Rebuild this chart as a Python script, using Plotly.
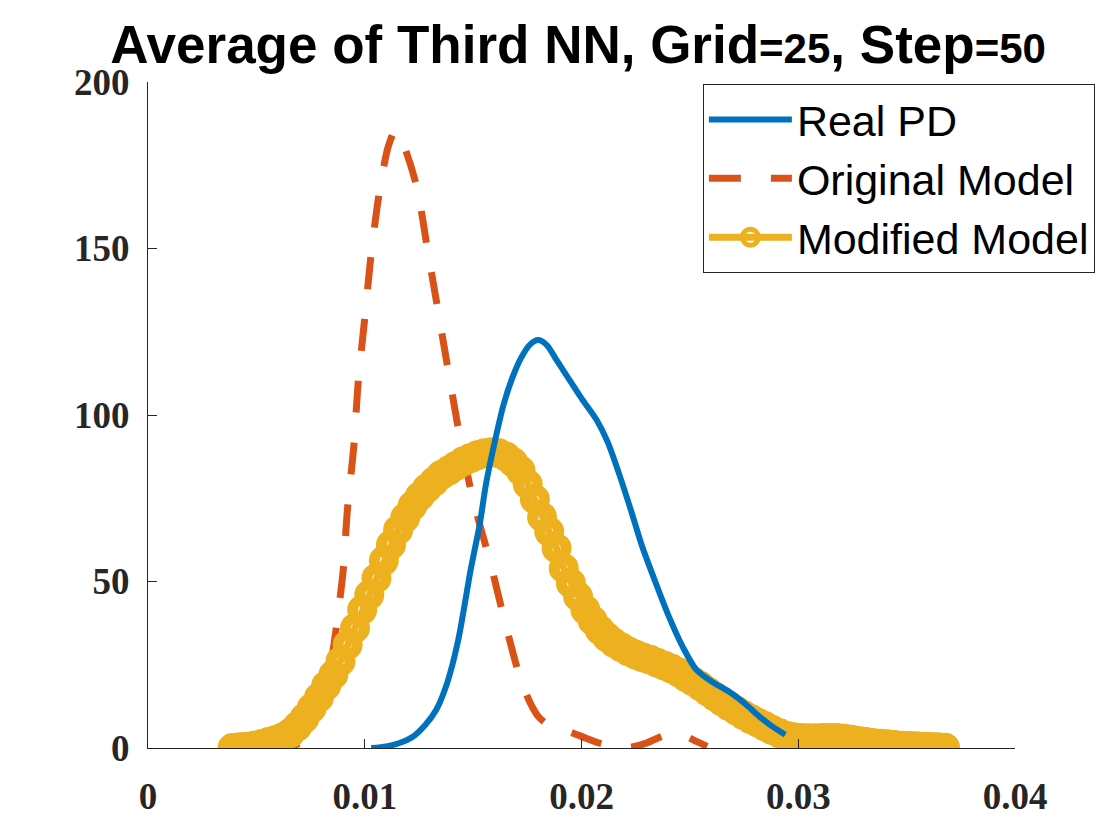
import plotly.graph_objects as go

# ---- data ----
real_x = [0.0103, 0.0110, 0.0116, 0.0122, 0.0128, 0.0133, 0.0138, 0.0143, 0.0149, 0.0153,
          0.0156, 0.0160, 0.0164, 0.0168, 0.0172, 0.0176, 0.0180, 0.0184, 0.0188, 0.0193,
          0.0200, 0.0207, 0.0212, 0.0217, 0.0223, 0.0228, 0.0234, 0.0240, 0.0247, 0.0253,
          0.0260, 0.0269, 0.0276, 0.0282, 0.0288, 0.0294, 0.0300, 0.0305]
real_y = [0, 0.5, 1.5, 3.3, 7, 11.5, 19.5, 32, 54, 67,
          79.5, 92, 103, 111, 117, 121, 122.5, 121, 117, 112,
          105, 98.5, 92, 83, 71, 60.5, 50, 40, 30, 23.5,
          20, 16.5, 13, 9.5, 6.5, 4, 2, 0.8]

orig_x = [0.0055, 0.0062, 0.0069, 0.0074, 0.0078, 0.0080, 0.0082, 0.0084, 0.0086, 0.0088,
          0.0090, 0.0092, 0.0095, 0.0097, 0.0100, 0.0103, 0.0107, 0.0111, 0.01143, 0.0118,
          0.0124, 0.0129, 0.0134, 0.0139, 0.0144, 0.0150, 0.0158, 0.0165, 0.0173, 0.0180,
          0.0186, 0.0192, 0.0200, 0.0208, 0.0215, 0.0222, 0.0230, 0.0237, 0.0242, 0.0248,
          0.0253, 0.0258]
orig_y = [0, 0.3, 1.2, 4.5, 10, 13, 18, 24, 32, 42,
          53, 71.5, 91, 110, 129, 148.6, 168, 181, 185.5, 181,
          168.5, 149.5, 130.6, 111.5, 93, 74.5, 55.5, 37, 18.5, 9.5,
          6.5, 5.4, 3.5, 1.5, 0.5, 0.2, 1.5, 3.5, 4.5, 3.5,
          2, 0.5]

mod_x = [0.00390, 0.00423, 0.00456, 0.00490, 0.00523, 0.00556, 0.00589, 0.00623, 0.00656, 0.00689,
         0.00722, 0.00755, 0.00789, 0.00822, 0.00855, 0.00888, 0.00921, 0.00955, 0.00988, 0.01021,
         0.01054, 0.01088, 0.01121, 0.01154, 0.01187, 0.01221, 0.01254, 0.01287, 0.01320, 0.01353,
         0.01387, 0.01420, 0.01453, 0.01486, 0.01519, 0.01553, 0.01586, 0.01619, 0.01652, 0.01685,
         0.01719, 0.01752, 0.01785, 0.01818, 0.01851, 0.01885, 0.01918, 0.01951, 0.01984, 0.02018,
         0.02051, 0.02084, 0.02117, 0.02150, 0.02184, 0.02217, 0.02250, 0.02283, 0.02316, 0.02349,
         0.02383, 0.02416, 0.02449, 0.02482, 0.02515, 0.02549, 0.02582, 0.02615, 0.02648, 0.02681,
         0.02715, 0.02748, 0.02781, 0.02814, 0.02847, 0.02880, 0.02914, 0.02947, 0.02980, 0.03013,
         0.03046, 0.03079, 0.03113, 0.03146, 0.03179, 0.03212, 0.03245, 0.03278, 0.03312, 0.03345,
         0.03378, 0.03411, 0.03444, 0.03477, 0.03511, 0.03544, 0.03577, 0.03610, 0.03643, 0.03677]
mod_y = [0, 0.2, 0.4, 0.7, 1.2, 1.8, 2.4, 3.2, 4.5, 6.5,
         9, 12, 15.2, 18.7, 22, 26, 31, 36, 41.5, 46,
         51, 56.3, 61, 65.5, 69.2, 72.8, 75.6, 78, 80, 82,
         83.3, 84.7, 86, 87, 87.9, 88.5, 88.8, 88.5, 87.5, 85.8,
         83.3, 79.2, 74.7, 69.4, 65, 60, 54, 49.5, 45.5, 41.5,
         38.3, 35.5, 33.3, 31.6, 30.2, 29, 28, 27.2, 26.5, 25.6,
         24.7, 23.8, 22.7, 21.3, 20, 18.6, 17, 15.5, 14, 12.6,
         11.2, 9.9, 8.7, 7.6, 6.5, 5.4, 4.4, 3.6, 3.2, 3.0,
         2.9, 2.9, 3.0, 3.0, 3.0, 2.8, 2.5, 2.1, 1.8, 1.5,
         1.3, 1.1, 0.9, 0.7, 0.6, 0.5, 0.4, 0.3, 0.2, 0.1]

x_ticks = [0, 0.01, 0.02, 0.03, 0.04]
x_tick_text = ["0", "0.01", "0.02", "0.03", "0.04"]
y_ticks = [0, 50, 100, 150, 200]
y_tick_text = ["0", "50", "100", "150", "200"]

BLUE = "#0072BD"
RED = "#D95319"
YELLOW = "#EDB120"
DARK = "#262626"

tail_start = 35  # index where the blue tail dips under the yellow band

fig = go.Figure()
fig.add_trace(go.Scatter(
    x=orig_x, y=orig_y, mode="lines", name="Original Model", legendrank=2,
    line=dict(color=RED, width=7, dash="32px,30px", shape="spline", smoothing=0.8)))
fig.add_trace(go.Scatter(
    x=real_x[tail_start:], y=real_y[tail_start:], mode="lines", showlegend=False,
    hoverinfo="skip",
    line=dict(color=BLUE, width=6, shape="spline", smoothing=0.8)))
fig.add_trace(go.Scatter(
    x=mod_x, y=mod_y, mode="lines+markers", name="Modified Model", legendrank=3,
    line=dict(color=YELLOW, width=7),
    marker=dict(symbol="circle", size=19, color="rgba(255,255,255,0)",
                line=dict(width=11, color=YELLOW))))
fig.add_trace(go.Scatter(
    x=real_x[:tail_start + 1], y=real_y[:tail_start + 1], mode="lines", name="Real PD",
    legendrank=1,
    line=dict(color=BLUE, width=6, shape="spline", smoothing=0.8)))

fig.update_layout(
    width=1120, height=840,
    paper_bgcolor="white", plot_bgcolor="white",
    margin=dict(l=140, r=113, t=74, b=100, autoexpand=False),
    title=dict(
        text="Average of Third NN, Grid<span style='font-size:42px'>=25</span>, "
             "Step<span style='font-size:42px'>=50</span>",
        x=0.509, xanchor="center", y=0.957, yanchor="middle",
        font=dict(family="Liberation Sans", size=53, color="black", weight="bold")),
    legend=dict(
        x=0.640, xanchor="left", y=0.997, yanchor="top",
        bgcolor="white", bordercolor="#262626", borderwidth=1,
        font=dict(family="Liberation Sans", size=43, color="black"),
        itemwidth=83, tracegroupgap=0),
    showlegend=True,
)
fig.update_xaxes(
    range=[0, 0.04], tickvals=x_ticks, ticktext=x_tick_text, automargin=False,
    showgrid=False, zeroline=False, showline=True, linecolor=DARK, linewidth=1,
    ticks="inside", ticklen=9, tickcolor=DARK, tickwidth=1,
    tickfont=dict(family="Liberation Serif", size=37, color=DARK, weight="bold"),
    ticklabelstandoff=16)
fig.update_yaxes(
    range=[0, 200], tickvals=y_ticks, ticktext=y_tick_text, automargin=False,
    showgrid=False, zeroline=False, showline=True, linecolor=DARK, linewidth=1,
    ticks="inside", ticklen=9, tickcolor=DARK, tickwidth=1,
    tickfont=dict(family="Liberation Serif", size=37, color=DARK, weight="bold"),
    ticklabelstandoff=10)

fig.write_html("out.html")
